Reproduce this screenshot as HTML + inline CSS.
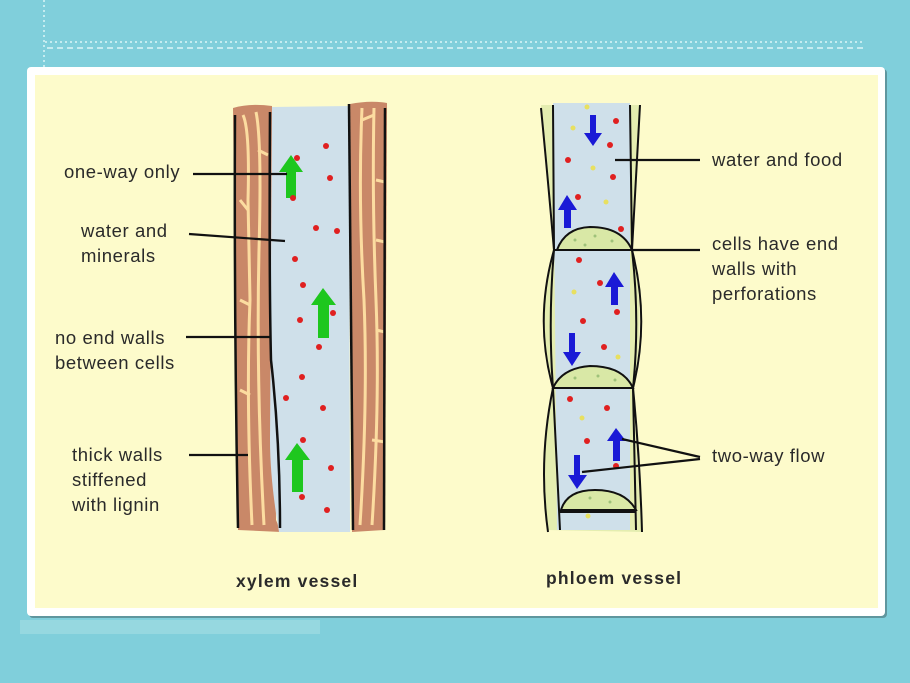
<!DOCTYPE html>
<html><head><style>
html,body{margin:0;padding:0;width:910px;height:683px;overflow:hidden;background:#80cfdb}
svg{display:block}
text{font-family:"Liberation Sans",sans-serif;fill:#2a2a2a;font-size:18.5px;letter-spacing:0.6px}
</style></head><body>
<svg width="910" height="683" viewBox="0 0 910 683">
<rect width="910" height="683" fill="#80cfdb"/>
<path d="M45 42 H865" stroke="#c5ecf0" stroke-width="2" stroke-dasharray="2 3"/>
<path d="M47 48 H865" stroke="#c5ecf0" stroke-width="2" stroke-dasharray="6 4"/>
<path d="M44 0 V70" stroke="#c5ecf0" stroke-width="2" stroke-dasharray="2 3"/>
<rect x="20" y="620" width="300" height="14" fill="#9fdbe3" opacity="0.7"/>
<rect x="29" y="69" width="858" height="549" rx="4" fill="#4a6f74" opacity="0.6"/>
<rect x="27" y="67" width="858" height="549" rx="4" fill="#fff"/>
<rect x="35" y="75" width="843" height="533" fill="#fdfbcb"/>

<!-- xylem -->
<path d="M233 108 Q250 103 272 106 L276 520 L281 532 L238 530 Z" fill="#c98868"/>
<path d="M350 104 Q370 100 387 103 L385 530 L352 532 Z" fill="#c98868"/>
<g stroke="#fcdca0" stroke-width="3" fill="none">
<path d="M243 115 Q250 130 248 200 L250 300 Q246 400 252 525"/>
<path d="M256 112 Q262 140 259 250 Q256 380 264 525"/>
<path d="M240 200 L248 210 M240 300 L250 305 M240 390 L250 395 M258 150 L268 155"/>
<path d="M362 108 Q358 200 364 300 Q368 400 360 525"/>
<path d="M374 108 Q372 200 376 300 Q380 400 372 525"/>
<path d="M376 180 L385 182 M376 240 L385 242 M376 330 L385 332 M372 440 L385 442 M362 120 L374 115"/>
</g>
<path d="M272 107 L349 106 L350 532 L279 532 Q270 480 270 440 Z" fill="#cfe0ea"/>
<g stroke="#111" stroke-width="2.5" fill="none">
<path d="M235 115 Q234 320 238 528"/>
<path d="M270 112 Q269 280 271 360 Q280 440 280 528"/>
<path d="M349 104 Q350 300 353 530"/>
<path d="M385 108 L384 530"/>
</g>
<g fill="#1ec71e">
<path d="M291 155 L279 172 L286 172 L286 198 L296 198 L296 172 L303 172 Z"/>
<path d="M323 288 L311 305 L318 305 L318 338 L329 338 L329 305 L336 305 Z"/>
<path d="M297 443 L285 460 L292 460 L292 492 L303 492 L303 460 L310 460 Z"/>
</g>
<g fill="#e02020">
<circle cx="326" cy="146" r="3"/><circle cx="297" cy="158" r="3"/><circle cx="330" cy="178" r="3"/><circle cx="293" cy="198" r="3"/>
<circle cx="316" cy="228" r="3"/><circle cx="337" cy="231" r="3"/><circle cx="295" cy="259" r="3"/><circle cx="303" cy="285" r="3"/>
<circle cx="300" cy="320" r="3"/><circle cx="333" cy="313" r="3"/><circle cx="319" cy="347" r="3"/><circle cx="302" cy="377" r="3"/>
<circle cx="286" cy="398" r="3"/><circle cx="323" cy="408" r="3"/><circle cx="303" cy="440" r="3"/><circle cx="331" cy="468" r="3"/>
<circle cx="302" cy="497" r="3"/><circle cx="327" cy="510" r="3"/>
</g>

<!-- phloem -->
<path d="M541 105 Q548 180 553 250 Q536 320 553 388 Q540 450 548 530 L642 532 Q636 450 633 388 Q646 320 633 250 Q635 180 640 105 Z" fill="#e4edb0"/>
<path d="M553 103 L630 103 L630 530 L557 530 Z" fill="#cfe0ea"/>
<g fill="#d9e8a6" stroke="#111" stroke-width="2">
<path d="M557 250 Q565 228 590 227 Q622 227 632 250 Z"/>
<path d="M553 388 Q562 368 590 366 Q623 366 633 388 Z"/>
<path d="M561 510 Q567 490 595 490 Q625 490 636 510 Z"/>
</g>
<g fill="#9fc27a"><circle cx="575" cy="240" r="1.5"/><circle cx="595" cy="236" r="1.5"/><circle cx="612" cy="241" r="1.5"/><circle cx="585" cy="245" r="1.5"/><circle cx="575" cy="378" r="1.5"/><circle cx="598" cy="376" r="1.5"/><circle cx="615" cy="380" r="1.5"/><circle cx="590" cy="498" r="1.5"/><circle cx="610" cy="502" r="1.5"/></g>
<g stroke="#111" stroke-width="2" fill="none">
<path d="M541 108 Q548 180 554 250 Q534 320 553 388 Q538 460 548 532"/>
<path d="M553 105 L554 250 Q548 320 553 388 L560 530"/>
<path d="M630 105 L632 250 Q640 320 633 388 L636 530"/>
<path d="M640 105 Q636 180 632 250 Q650 320 633 388 Q640 460 642 532"/>
<path d="M554 250 H632 M553 388 H633 M560 512 H636"/>
</g>
<g fill="#1a1ad6">
<path d="M590 115 L596 115 L596 133 L602 133 L593 146 L584 133 L590 133 Z"/>
<path d="M567 195 L558 210 L564 210 L564 228 L571 228 L571 210 L577 210 Z"/>
<path d="M614 272 L605 287 L611 287 L611 305 L618 305 L618 287 L624 287 Z"/>
<path d="M569 333 L575 333 L575 352 L581 352 L572 366 L563 352 L569 352 Z"/>
<path d="M616 428 L607 441 L613 441 L613 461 L620 461 L620 441 L626 441 Z"/>
<path d="M574 455 L580 455 L580 475 L587 475 L577 489 L568 475 L574 475 Z"/>
</g>
<g fill="#e02020"><circle cx="616" cy="121" r="3"/><circle cx="610" cy="145" r="3"/><circle cx="568" cy="160" r="3"/><circle cx="613" cy="177" r="3"/><circle cx="578" cy="197" r="3"/><circle cx="621" cy="229" r="3"/><circle cx="579" cy="260" r="3"/><circle cx="600" cy="283" r="3"/><circle cx="617" cy="312" r="3"/><circle cx="583" cy="321" r="3"/><circle cx="604" cy="347" r="3"/><circle cx="570" cy="399" r="3"/><circle cx="607" cy="408" r="3"/><circle cx="587" cy="441" r="3"/><circle cx="616" cy="466" r="3"/></g>
<g fill="#e8e060"><circle cx="587" cy="107" r="2.5"/><circle cx="573" cy="128" r="2.5"/><circle cx="593" cy="168" r="2.5"/><circle cx="606" cy="202" r="2.5"/><circle cx="574" cy="292" r="2.5"/><circle cx="618" cy="357" r="2.5"/><circle cx="582" cy="418" r="2.5"/><circle cx="588" cy="516" r="2.5"/></g>

<!-- leader lines -->
<g stroke="#111" stroke-width="2.2">
<line x1="193" y1="174" x2="287" y2="174"/>
<line x1="189" y1="234" x2="285" y2="241"/>
<line x1="186" y1="337" x2="271" y2="337"/>
<line x1="189" y1="455" x2="248" y2="455"/>
<line x1="615" y1="160" x2="700" y2="160"/>
<line x1="632" y1="250" x2="700" y2="250"/>
<line x1="622" y1="439" x2="700" y2="457"/>
<line x1="582" y1="472" x2="700" y2="459"/>
</g>
<text x="64" y="178">one-way only</text>
<text x="81" y="237">water and</text>
<text x="81" y="262">minerals</text>
<text x="55" y="344">no end walls</text>
<text x="55" y="369">between cells</text>
<text x="72" y="461">thick walls</text>
<text x="72" y="486">stiffened</text>
<text x="72" y="511">with lignin</text>
<text x="712" y="166">water and food</text>
<text x="712" y="250">cells have end</text>
<text x="712" y="275">walls with</text>
<text x="712" y="300">perforations</text>
<text x="712" y="462">two-way flow</text>
<text x="236" y="587" style="font-weight:bold;font-size:17.5px;letter-spacing:1.2px">xylem vessel</text>
<text x="546" y="584" style="font-weight:bold;font-size:17.5px;letter-spacing:1.2px">phloem vessel</text>
</svg>
</body></html>
